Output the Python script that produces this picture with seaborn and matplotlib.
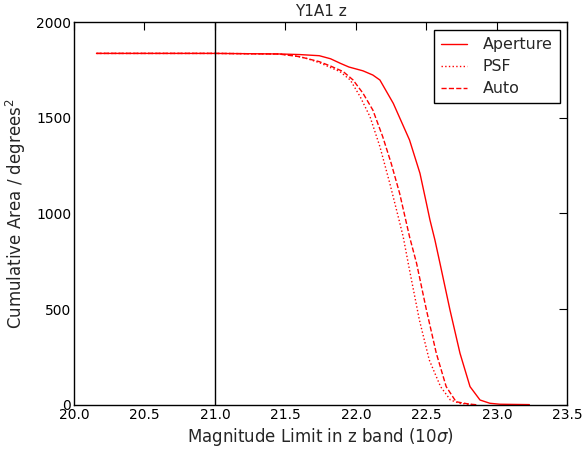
import matplotlib
matplotlib.use("Agg")
import matplotlib.pyplot as plt
import seaborn as sns
import pandas as pd

# Data
ap_x = [20.16, 20.5, 21.0, 21.46, 21.6, 21.74, 21.82, 21.89, 21.95, 22.05, 22.12, 22.17, 22.265, 22.38, 22.454, 22.50, 22.525, 22.56, 22.596, 22.667, 22.738, 22.809, 22.88, 22.95, 23.02, 23.12, 23.23]
ap_y = [1836, 1836, 1836, 1833, 1830, 1824, 1808, 1784, 1765, 1745, 1723, 1697, 1575, 1384, 1210, 1053, 966, 862, 740, 496, 270, 96, 26, 9, 4, 3, 2]

psf_x = [20.16, 20.5, 21.0, 21.45, 21.55, 21.65, 21.75, 21.82, 21.887, 21.96, 22.03, 22.10, 22.17, 22.24, 22.30, 22.335, 22.38, 22.45, 22.52, 22.60, 22.67, 22.74, 22.85]
psf_y = [1836, 1836, 1836, 1833, 1826, 1810, 1785, 1762, 1741, 1697, 1610, 1505, 1349, 1158, 983, 879, 705, 444, 235, 96, 26, 8, 1]

auto_x = [20.16, 20.5, 21.0, 21.45, 21.60, 21.74, 21.82, 21.91, 21.98, 22.05, 22.12, 22.19, 22.25, 22.31, 22.38, 22.43, 22.50, 22.57, 22.64, 22.71, 22.80, 22.86]
auto_y = [1836, 1836, 1836, 1833, 1819, 1793, 1770, 1741, 1697, 1628, 1540, 1401, 1262, 1105, 879, 740, 496, 270, 96, 17, 5, 1]

labels = ["Aperture", "PSF", "Auto"]
styles = ["-", ":", "--"]

sns.set_style("white")
plt.rcParams["font.family"] = ["DejaVu Sans"]

fig = plt.figure(figsize=(5.82, 4.49), dpi=100)
ax = fig.add_axes([0.127, 0.098, 0.848, 0.853])

for xs, ys, lab, ls in zip([ap_x, psf_x, auto_x], [ap_y, psf_y, auto_y], labels, styles):
    df = pd.DataFrame({"x": xs, "y": ys})
    sns.lineplot(data=df, x="x", y="y", ax=ax, color="red", linestyle=ls,
                 linewidth=1.0, label=lab, sort=False, estimator=None)

ax.axvline(21.0, color="black", linewidth=1.0)

ax.set_xlim(20.0, 23.5)
ax.set_ylim(0, 2000)
ax.set_xticks([20.0, 20.5, 21.0, 21.5, 22.0, 22.5, 23.0, 23.5])
ax.set_xticklabels(["20.0", "20.5", "21.0", "21.5", "22.0", "22.5", "23.0", "23.5"])
ax.set_yticks([0, 500, 1000, 1500, 2000])
ax.tick_params(direction="in", top=True, right=True, length=6, width=0.8, labelsize=10, colors="black", pad=2)
for s in ax.spines.values():
    s.set_color("black")
    s.set_linewidth(1.0)

ax.set_xlabel(r"Magnitude Limit in z band (10$\sigma$)", fontsize=12, labelpad=3)
ax.set_ylabel(r"Cumulative Area / degrees$^2$", fontsize=12, labelpad=6)
ax.set_title("Y1A1 z", fontsize=11, pad=4)

leg = ax.legend(loc="upper right", fontsize=11.4, frameon=True, fancybox=False,
                handlelength=1.6, handletextpad=1.0, borderpad=0.45, labelspacing=0.45,
                borderaxespad=0.5)
leg.get_frame().set_edgecolor("black")
leg.get_frame().set_linewidth(1.0)
leg.get_frame().set_alpha(1.0)

fig.savefig("out.png", dpi=100)
